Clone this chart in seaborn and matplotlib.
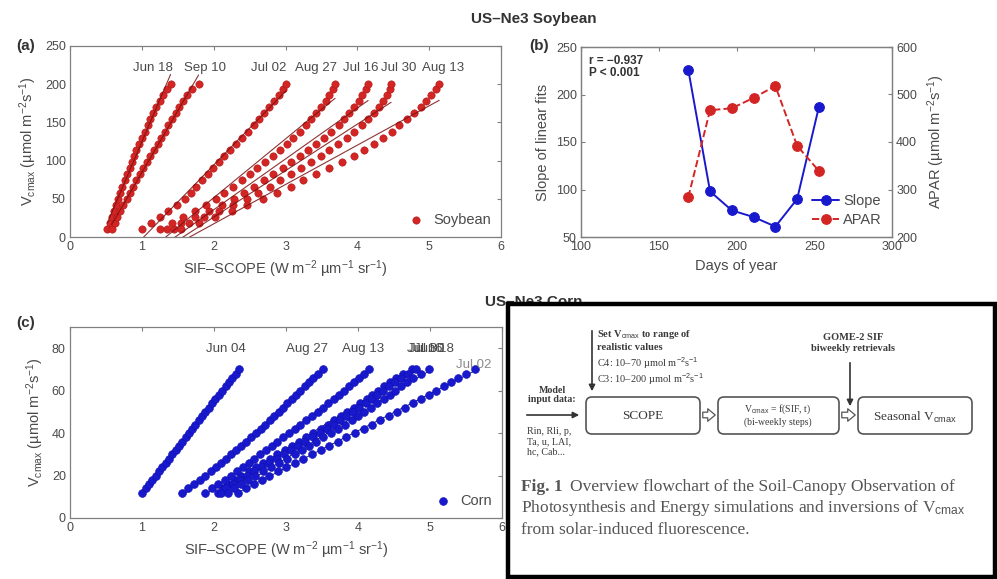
import numpy as np
import pandas as pd
import matplotlib
matplotlib.use("Agg")
import matplotlib.pyplot as plt
import seaborn as sns
from matplotlib.patches import FancyBboxPatch, Rectangle, FancyArrowPatch

# ---------------- DATA ----------------
soy_vcmax = [10, 18, 26, 34, 42, 50, 58, 66, 74, 82, 90, 98, 106, 114, 122,
             130, 138, 146, 154, 162, 170, 178, 186, 194, 200]
soy_dates = ['Jun 18', 'Jul 02', 'Jul 16', 'Jul 30', 'Aug 13', 'Aug 27', 'Sep 10']
soy_jun18 = [0.52, 0.55, 0.58, 0.61, 0.64, 0.67, 0.70, 0.73, 0.76, 0.79, 0.83, 0.86, 0.89,
             0.92, 0.96, 1.00, 1.04, 1.08, 1.12, 1.16, 1.20, 1.25, 1.30, 1.35, 1.40]
soy_jul02 = [1.00, 1.13, 1.25, 1.37, 1.49, 1.60, 1.68, 1.76, 1.84, 1.92, 1.99, 2.07, 2.15,
             2.23, 2.31, 2.40, 2.48, 2.56, 2.63, 2.70, 2.77, 2.84, 2.91, 2.97, 3.01]
soy_jul16 = [1.35, 1.55, 1.74, 1.93, 2.11, 2.28, 2.42, 2.56, 2.70, 2.83, 2.96, 3.08, 3.20,
             3.32, 3.43, 3.54, 3.64, 3.74, 3.82, 3.89, 3.96, 4.02, 4.07, 4.12, 4.15]
soy_jul30 = [1.45, 1.66, 1.87, 2.07, 2.27, 2.46, 2.62, 2.78, 2.93, 3.08, 3.22, 3.36, 3.49,
             3.61, 3.73, 3.85, 3.96, 4.06, 4.15, 4.23, 4.30, 4.36, 4.41, 4.45, 4.47]
soy_aug13 = [1.55, 1.79, 2.02, 2.25, 2.47, 2.69, 2.88, 3.07, 3.25, 3.43, 3.61, 3.79, 3.95,
             4.09, 4.23, 4.36, 4.48, 4.58, 4.69, 4.79, 4.88, 4.96, 5.03, 5.09, 5.14]
soy_aug27 = [1.25, 1.42, 1.58, 1.74, 1.89, 2.03, 2.15, 2.27, 2.39, 2.50, 2.61, 2.72, 2.82,
             2.92, 3.02, 3.11, 3.20, 3.28, 3.36, 3.43, 3.50, 3.56, 3.61, 3.66, 3.69]
soy_sep10 = [0.58, 0.62, 0.66, 0.70, 0.74, 0.79, 0.83, 0.88, 0.92, 0.97, 1.02, 1.07, 1.12,
             1.17, 1.22, 1.27, 1.32, 1.37, 1.42, 1.47, 1.52, 1.57, 1.63, 1.70, 1.79]

corn_vcmax = [12, 14, 16, 18, 20, 22, 24, 26, 28, 30, 32, 34, 36, 38, 40,
              42, 44, 46, 48, 50, 52, 54, 56, 58, 60, 62, 64, 66, 68, 70]
corn_dates = ['Jun 04', 'Jun 18', 'Jul 02', 'Jul 16', 'Jul 30', 'Aug 13', 'Aug 27']
corn_jun04 = [1.00, 1.05, 1.10, 1.14, 1.19, 1.24, 1.28, 1.33, 1.38, 1.42, 1.47, 1.51, 1.56, 1.61, 1.65,
              1.70, 1.74, 1.79, 1.84, 1.88, 1.93, 1.97, 2.02, 2.07, 2.11, 2.16, 2.21, 2.25, 2.30, 2.35]
corn_jun18 = [2.05, 2.12, 2.20, 2.29, 2.38, 2.48, 2.58, 2.68, 2.78, 2.88, 2.98, 3.08, 3.18, 3.28, 3.38,
              3.48, 3.58, 3.67, 3.76, 3.85, 3.94, 4.03, 4.12, 4.20, 4.28, 4.36, 4.44, 4.53, 4.63, 4.75]
corn_jul02 = [2.33, 2.44, 2.55, 2.66, 2.77, 2.89, 3.00, 3.12, 3.24, 3.36, 3.48, 3.60, 3.72, 3.84, 3.96,
              4.08, 4.20, 4.31, 4.43, 4.54, 4.65, 4.76, 4.87, 4.98, 5.09, 5.19, 5.29, 5.39, 5.50, 5.62]
corn_jul16 = [2.10, 2.17, 2.26, 2.36, 2.46, 2.56, 2.66, 2.77, 2.87, 2.97, 3.07, 3.17, 3.27, 3.37, 3.47,
              3.57, 3.66, 3.75, 3.84, 3.93, 4.02, 4.11, 4.19, 4.27, 4.35, 4.43, 4.51, 4.60, 4.69, 4.80]
corn_jul30 = [2.20, 2.28, 2.37, 2.47, 2.57, 2.68, 2.79, 2.90, 3.01, 3.12, 3.22, 3.32, 3.42, 3.52, 3.62,
              3.72, 3.82, 3.91, 4.00, 4.09, 4.18, 4.27, 4.36, 4.44, 4.52, 4.60, 4.68, 4.77, 4.87, 4.98]
corn_aug13 = [1.87, 1.97, 2.06, 2.15, 2.24, 2.32, 2.40, 2.48, 2.56, 2.64, 2.72, 2.80, 2.88, 2.96, 3.04,
              3.12, 3.20, 3.28, 3.36, 3.44, 3.52, 3.59, 3.67, 3.74, 3.81, 3.88, 3.94, 4.01, 4.08, 4.15]
corn_aug27 = [1.55, 1.64, 1.72, 1.80, 1.88, 1.96, 2.03, 2.10, 2.17, 2.24, 2.31, 2.38, 2.45, 2.52, 2.58,
              2.65, 2.71, 2.78, 2.84, 2.90, 2.96, 3.02, 3.08, 3.14, 3.20, 3.26, 3.32, 3.38, 3.45, 3.52]

doy = [169, 183, 197, 211, 225, 239, 253]
slope = [226, 98, 78, 71, 61, 90, 187]
apar = [284, 467, 471, 493, 518, 392, 339]

# label layout (x positions of date labels, in data units)
soy_label_x = [1.15, 2.77, 4.05, 4.58, 5.2, 3.43, 1.88]
corn_label_x = [2.17, 5.05, 5.6, 4.93, 4.95, 4.07, 3.29]

# ---------------- STYLE ----------------
sns.set_theme(style="white")
plt.rcParams['font.family'] = ['Liberation Sans', 'DejaVu Sans']
plt.rcParams['mathtext.fontset'] = 'custom'
plt.rcParams['mathtext.rm'] = 'Liberation Sans'
plt.rcParams['mathtext.it'] = 'Liberation Sans:italic'
TXT = '#4a4a4a'
SPN = '#808080'
RED = '#d42525'
BLUE = '#1818cc'

W, H = 997, 579
fig = plt.figure(figsize=(W / 100, H / 100), dpi=100)


def ax_px(l, t, r, b):
    return fig.add_axes([l / W, 1 - b / H, (r - l) / W, (b - t) / H])


def style_ax(ax, right=True):
    for s in ax.spines.values():
        s.set_color(SPN)
        s.set_linewidth(0.9)
    ax.tick_params(direction='in', length=3, width=0.8, colors=SPN, labelcolor=TXT,
                   labelsize=9, top=True, right=right, pad=3)


ylab = 'V$_{\\mathrm{cmax}}$ (µmol m$^{-2}$s$^{-1}$)'
xlab = 'SIF–SCOPE (W m$^{-2}$ µm$^{-1}$ sr$^{-1}$)'

# ---------------- (a) Soybean ----------------
soy_series = [soy_jun18, soy_jul02, soy_jul16, soy_jul30, soy_aug13, soy_aug27, soy_sep10]
soy_df = pd.concat([pd.DataFrame({'date': d, 'sif': s, 'vcmax': soy_vcmax})
                    for d, s in zip(soy_dates, soy_series)], ignore_index=True)
axa = ax_px(70, 46, 501, 237)
sns.scatterplot(data=soy_df, x='sif', y='vcmax', color=RED, edgecolor='#b01515', linewidth=0.4,
                s=28, ax=axa, label='Soybean', zorder=3)
for d in soy_dates:
    sub = soy_df[soy_df['date'] == d]
    sns.regplot(data=sub, x='sif', y='vcmax', scatter=False, ci=None, ax=axa,
                line_kws=dict(color='#7a1010', lw=0.8, zorder=4, alpha=0.85))
for d, lx in zip(soy_dates, soy_label_x):
    axa.text(lx, 221, d, ha='center', va='center', fontsize=9.5, color=TXT)
axa.set_xlim(0, 6)
axa.set_ylim(0, 250)
axa.set_xticks(range(0, 7))
axa.set_yticks(range(0, 251, 50))
axa.set_xlabel(xlab, fontsize=10.5, color=TXT, labelpad=4)
axa.set_ylabel(ylab, fontsize=10.5, color=TXT, labelpad=4)
style_ax(axa)
axa.legend(loc='lower right', frameon=False, fontsize=10.5, handletextpad=0.2,
           borderaxespad=0.3, labelcolor=TXT)

# ---------------- (b) Slope / APAR ----------------
axb = ax_px(581, 47, 892, 237)
sns.lineplot(x=doy, y=slope, color=BLUE, marker='o', markersize=7, lw=1.4, ax=axb,
             label='Slope', markeredgecolor=BLUE, zorder=3)
axb2 = axb.twinx()
sns.lineplot(x=doy, y=apar, color=RED, marker='o', markersize=7, lw=1.4, ax=axb2,
             label='APAR', markeredgecolor=RED, linestyle='--', zorder=3)
axb.set_xlim(100, 300)
axb.set_ylim(50, 250)
axb2.set_ylim(200, 600)
axb.set_xticks(range(100, 301, 50))
axb.set_yticks(range(50, 251, 50))
axb2.set_yticks(range(200, 601, 100))
axb.set_xlabel('Days of year', fontsize=10.5, color=TXT, labelpad=4)
axb.set_ylabel('Slope of linear fits', fontsize=10.5, color=TXT, labelpad=4)
axb2.set_ylabel('APAR (µmol m$^{-2}$s$^{-1}$)', fontsize=10.5, color=TXT, labelpad=6)
style_ax(axb, right=False)
style_ax(axb2)
axb2.tick_params(axis='y', right=True, left=False)
h1, l1 = axb.get_legend_handles_labels()
h2, l2 = axb2.get_legend_handles_labels()
axb.get_legend().remove()
axb2.get_legend().remove()
axb2.legend(h1 + h2, l1 + l2, loc='lower right', frameon=False, fontsize=10.5,
            handlelength=1.8, handletextpad=0.3, borderaxespad=0.3, labelspacing=0.3,
            labelcolor=TXT)
axb.text(0.025, 0.96, 'r = −0.937\nP < 0.001', transform=axb.transAxes, ha='left', va='top',
         fontsize=8.5, fontweight='bold', color='#333333', linespacing=1.0)

# ---------------- (c) Corn ----------------
corn_series = [corn_jun04, corn_jun18, corn_jul02, corn_jul16, corn_jul30, corn_aug13, corn_aug27]
corn_df = pd.concat([pd.DataFrame({'date': d, 'sif': s, 'vcmax': corn_vcmax})
                     for d, s in zip(corn_dates, corn_series)], ignore_index=True)
axc = ax_px(70, 327, 502, 518)
sns.scatterplot(data=corn_df, x='sif', y='vcmax', color=BLUE, edgecolor='#1010b0', linewidth=0.4,
                s=32, ax=axc, label='Corn', zorder=3)
for d in corn_dates:
    sub = corn_df[corn_df['date'] == d]
    sns.regplot(data=sub, x='sif', y='vcmax', scatter=False, ci=None, ax=axc,
                line_kws=dict(color='#00006e', lw=0.6, zorder=2))
for d, lx in zip(corn_dates, corn_label_x):
    yy = 72 if d == 'Jul 02' else 79.5
    axc.text(lx, yy, d, ha='center', va='center', fontsize=9.5,
             color='#8a8a8a' if d == 'Jul 02' else TXT)
axc.set_xlim(0, 6)
axc.set_ylim(0, 90)
axc.set_xticks(range(0, 7))
axc.set_yticks(range(0, 81, 20))
axc.set_xlabel(xlab, fontsize=10.5, color=TXT, labelpad=4)
axc.set_ylabel(ylab, fontsize=10.5, color=TXT, labelpad=4)
style_ax(axc)
axc.legend(loc='lower right', frameon=False, fontsize=10.5, handletextpad=0.2,
           borderaxespad=0.3, labelcolor=TXT)

# ---------------- titles and panel letters ----------------
fig.text(534 / W, 1 - 19 / H, 'US–Ne3 Soybean', ha='center', va='center', fontsize=11,
         fontweight='bold', color='#333333')
fig.text(534 / W, 1 - 302 / H, 'US–Ne3 Corn', ha='center', va='center', fontsize=11,
         fontweight='bold', color='#333333')
for lab, (px, py) in {'(a)': (26, 46), '(b)': (539, 46), '(c)': (26, 323)}.items():
    fig.text(px / W, 1 - py / H, lab, ha='center', va='center', fontsize=11,
             fontweight='bold', color='#333333')

# ---------------- flowchart overlay ----------------
axf = fig.add_axes([0, 0, 1, 1], zorder=20)
axf.set_xlim(0, W)
axf.set_ylim(H, 0)
axf.axis('off')
axf.patch.set_alpha(0)
axf.add_patch(Rectangle((508, 304), 487, 273, facecolor='white', edgecolor='black', lw=3.2))
SER = ['Liberation Serif', 'DejaVu Serif']
FC = '#3a3a3a'
for (x0, x1) in [(586, 700), (718, 839), (858, 972)]:
    axf.add_patch(FancyBboxPatch((x0, 397), x1 - x0, 37, boxstyle='round,pad=0,rounding_size=6',
                                 facecolor='white', edgecolor='#555555', lw=1.2))
axf.text(643, 416, 'SCOPE', ha='center', va='center', fontsize=9.5, family=SER, color=FC)
axf.text(778, 409, 'V$_{\\mathrm{cmax}}$ = f(SIF, t)', ha='center', va='center', fontsize=7,
         family=SER, color=FC)
axf.text(778, 422, '(bi-weekly steps)', ha='center', va='center', fontsize=7, family=SER, color=FC)
axf.text(915, 417, 'Seasonal V$_{\\mathrm{cmax}}$', ha='center', va='center', fontsize=9.5,
         family=SER, color=FC)
axf.text(552, 395, 'Model\ninput data:', ha='center', va='center', fontsize=7.2, family=SER,
         fontweight='bold', color=FC, linespacing=1.1)
axf.text(527, 442, 'Rin, Rli, p,\nTa, u, LAI,\nhc, Cab...', ha='left', va='center', fontsize=7.2,
         family=SER, color=FC, linespacing=1.15)
axf.text(597, 340, 'Set V$_{\\mathrm{cmax}}$ to range of\nrealistic values', ha='left', va='center',
         fontsize=7.5, family=SER, fontweight='bold', color=FC, linespacing=1.3)
axf.text(597, 363, 'C4: 10–70 µmol m$^{-2}$s$^{-1}$', ha='left', va='center', fontsize=7.5,
         family=SER, color=FC)
axf.text(597, 379, 'C3: 10–200 µmol m$^{-2}$s$^{-1}$', ha='left', va='center', fontsize=7.5,
         family=SER, color=FC)
axf.text(853, 343, 'GOME-2 SIF\nbiweekly retrievals', ha='center', va='center', fontsize=7.5,
         family=SER, fontweight='bold', color=FC, linespacing=1.3)
arrow_kw = dict(arrowstyle='-|>', mutation_scale=9, color='#333333', lw=1.2)
axf.add_patch(FancyArrowPatch((592, 328), (592, 394), **arrow_kw))
axf.add_patch(FancyArrowPatch((524, 415), (582, 415), **arrow_kw))
axf.add_patch(FancyArrowPatch((850, 360), (850, 409), **arrow_kw))
for (x0, x1) in [(700, 718), (839, 858)]:
    axf.add_patch(FancyArrowPatch((x0, 415), (x1, 415),
                                  arrowstyle='simple,head_width=1.0,tail_width=0.45,head_length=0.6',
                                  mutation_scale=9, facecolor='white', edgecolor='#555555', lw=0.9))
cap_kw = dict(ha='left', va='center', fontsize=12.5, family=SER, color='#555555')
axf.text(521, 487, 'Fig. 1', fontweight='bold', **cap_kw)
axf.text(570, 487, 'Overview flowchart of the Soil-Canopy Observation of', **cap_kw)
axf.text(521, 508, 'Photosynthesis and Energy simulations and inversions of V$_{\\mathrm{cmax}}$', **cap_kw)
axf.text(521, 530, 'from solar-induced fluorescence.', **cap_kw)

fig.savefig('out.png', dpi=100)
